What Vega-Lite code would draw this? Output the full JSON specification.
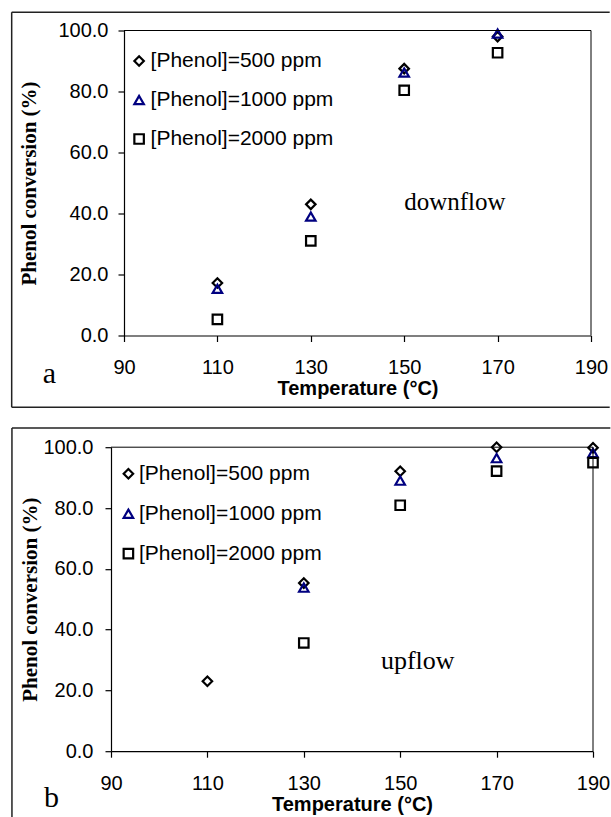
{
  "$schema": "https://vega.github.io/schema/vega-lite/v6.json",
  "background": "white",
  "padding": {"left": 10, "top": 10.5, "right": 0, "bottom": 0},
  "config": {
    "view": {"stroke": null},
    "font": "Liberation Sans",
    "axis": {
      "grid": false,
      "domainColor": "black",
      "tickColor": "black",
      "labelColor": "black",
      "titleColor": "black",
      "domainWidth": 1.2,
      "tickWidth": 1.2,
      "tickSize": 6,
      "labelFont": "Liberation Sans",
      "labelFontSize": 20,
      "labelOverlap": false
    }
  },
  "datasets": {
    "downflow": [
      {"feed": "[Phenol]=500 ppm", "temperature": 110, "conversion": 17.2},
      {"feed": "[Phenol]=500 ppm", "temperature": 130, "conversion": 43.0},
      {"feed": "[Phenol]=500 ppm", "temperature": 150, "conversion": 87.5},
      {"feed": "[Phenol]=500 ppm", "temperature": 170, "conversion": 98.0},
      {"feed": "[Phenol]=1000 ppm", "temperature": 110, "conversion": 15.3},
      {"feed": "[Phenol]=1000 ppm", "temperature": 130, "conversion": 39.0},
      {"feed": "[Phenol]=1000 ppm", "temperature": 150, "conversion": 86.2},
      {"feed": "[Phenol]=1000 ppm", "temperature": 170, "conversion": 99.0},
      {"feed": "[Phenol]=2000 ppm", "temperature": 110, "conversion": 5.3},
      {"feed": "[Phenol]=2000 ppm", "temperature": 130, "conversion": 31.0},
      {"feed": "[Phenol]=2000 ppm", "temperature": 150, "conversion": 80.4},
      {"feed": "[Phenol]=2000 ppm", "temperature": 170, "conversion": 92.7}
    ],
    "upflow": [
      {"feed": "[Phenol]=500 ppm", "temperature": 110, "conversion": 23.0},
      {"feed": "[Phenol]=500 ppm", "temperature": 130, "conversion": 55.3},
      {"feed": "[Phenol]=500 ppm", "temperature": 150, "conversion": 92.1},
      {"feed": "[Phenol]=500 ppm", "temperature": 170, "conversion": 100.0},
      {"feed": "[Phenol]=500 ppm", "temperature": 190, "conversion": 99.8},
      {"feed": "[Phenol]=1000 ppm", "temperature": 130, "conversion": 53.8},
      {"feed": "[Phenol]=1000 ppm", "temperature": 150, "conversion": 89.0},
      {"feed": "[Phenol]=1000 ppm", "temperature": 170, "conversion": 96.4},
      {"feed": "[Phenol]=1000 ppm", "temperature": 190, "conversion": 98.1},
      {"feed": "[Phenol]=2000 ppm", "temperature": 130, "conversion": 35.6},
      {"feed": "[Phenol]=2000 ppm", "temperature": 150, "conversion": 80.9},
      {"feed": "[Phenol]=2000 ppm", "temperature": 170, "conversion": 92.1},
      {"feed": "[Phenol]=2000 ppm", "temperature": 190, "conversion": 94.9}
    ]
  },
  "bounds": "flush",
  "spacing": 111.7,
  "resolve": {
    "scale": {"color": "independent", "shape": "independent"},
    "legend": {"color": "independent", "shape": "independent"}
  },
  "vconcat": [
    {
      "width": 482,
      "height": 305,
      "layer": [
        {
          "data": {"name": "downflow"},
          "mark": {"type": "point", "filled": false, "strokeWidth": 2.2, "size": 90, "opacity": 1},
          "encoding": {
            "x": {
              "field": "temperature", "type": "quantitative",
              "scale": {"domain": [90, 190], "range": [13, 480], "nice": false, "zero": false},
              "axis": {
                "values": [90, 110, 130, 150, 170, 190],
                "labelFlush": false, "labelPadding": 16,
                "title": "Temperature (°C)", "titleFont": "Liberation Sans",
                "titleFontWeight": "bold", "titleFontSize": 20, "titlePadding": 1,
                "titleX": 246.5
              }
            },
            "y": {
              "field": "conversion", "type": "quantitative",
              "scale": {"domain": [0, 100], "nice": false},
              "axis": {
                "values": [0, 20, 40, 60, 80, 100], "format": ".1f",
                "offset": -13, "labelPadding": 10,
                "title": "Phenol conversion (%)", "titleFont": "Liberation Serif",
                "titleFontWeight": "bold", "titleFontSize": 21, "titlePadding": 18
              }
            },
            "shape": {
              "field": "feed", "type": "nominal",
              "scale": {"domain": ["[Phenol]=500 ppm", "[Phenol]=1000 ppm", "[Phenol]=2000 ppm"], "range": ["diamond", "triangle-up", "square"]},
              "legend": {"orient": "none", "legendX": 17.6, "legendY": 20, "title": null, "padding": 0, "labelFont": "Liberation Sans", "labelFontSize": 21, "labelColor": "black", "labelLimit": 0, "symbolStrokeWidth": 2.2, "symbolSize": 90, "rowPadding": 17, "labelOffset": 1}
            },
            "color": {
              "field": "feed", "type": "nominal",
              "scale": {"domain": ["[Phenol]=500 ppm", "[Phenol]=1000 ppm", "[Phenol]=2000 ppm"], "range": ["black", "#000080", "black"]},
              "legend": {"orient": "none", "legendX": 17.6, "legendY": 20, "title": null, "padding": 0, "labelFont": "Liberation Sans", "labelFontSize": 21, "labelColor": "black", "labelLimit": 0, "symbolStrokeWidth": 2.2, "symbolSize": 90, "rowPadding": 17, "labelOffset": 1}
            }
          }
        },
        {
          "data": {"values": [{}]},
          "mark": {"type": "rule", "color": "black", "strokeWidth": 1},
          "encoding": {
            "x": {"datum": 90, "type": "quantitative"},
            "x2": {"datum": 190},
            "y": {"datum": 100, "type": "quantitative"}
          }
        },
        {
          "data": {"values": [{}]},
          "mark": {"type": "rule", "color": "black", "strokeWidth": 1},
          "encoding": {
            "x": {"datum": 190, "type": "quantitative"},
            "y": {"datum": 0, "type": "quantitative"},
            "y2": {"datum": 100}
          }
        },
        {
          "data": {"values": [{}]},
          "mark": {"type": "rule", "color": "#222222", "strokeWidth": 1.5},
          "encoding": {
            "x": {"datum": 65.95, "type": "quantitative"},
            "y": {"datum": -23.5, "type": "quantitative"},
            "y2": {"datum": 106}
          }
        },
        {
          "data": {"values": [{}]},
          "mark": {"type": "rule", "color": "#222222", "strokeWidth": 1.5},
          "encoding": {
            "x": {"datum": 65.95, "type": "quantitative"},
            "x2": {"datum": 194},
            "y": {"datum": 106, "type": "quantitative"}
          }
        },
        {
          "data": {"values": [{}]},
          "mark": {"type": "rule", "color": "#222222", "strokeWidth": 1.5},
          "encoding": {
            "x": {"datum": 65.95, "type": "quantitative"},
            "x2": {"datum": 194},
            "y": {"datum": -23.5, "type": "quantitative"}
          }
        },
        {
          "data": {"values": [{}]},
          "mark": {"type": "text", "font": "Liberation Serif", "fontSize": 25, "align": "left", "baseline": "alphabetic", "color": "black"},
          "encoding": {
            "x": {"datum": 150, "type": "quantitative"},
            "y": {"datum": 41.3, "type": "quantitative"},
            "text": {"value": "downflow"}
          }
        },
        {
          "data": {"values": [{}]},
          "mark": {"type": "text", "font": "Liberation Serif", "fontSize": 30, "align": "left", "baseline": "alphabetic", "color": "black"},
          "encoding": {
            "x": {"datum": 72.6, "type": "quantitative"},
            "y": {"datum": -15.5, "type": "quantitative"},
            "text": {"value": "a"}
          }
        }
      ]
    },
    {
      "width": 482,
      "height": 304,
      "layer": [
        {
          "data": {"name": "upflow"},
          "mark": {"type": "point", "filled": false, "strokeWidth": 2.2, "size": 90, "opacity": 1},
          "encoding": {
            "x": {
              "field": "temperature", "type": "quantitative",
              "scale": {"domain": [90, 190], "nice": false, "zero": false},
              "axis": {
                "values": [90, 110, 130, 150, 170, 190],
                "labelFlush": false, "labelPadding": 16,
                "title": "Temperature (°C)", "titleFont": "Liberation Sans",
                "titleFontWeight": "bold", "titleFontSize": 20, "titlePadding": 1
              }
            },
            "y": {
              "field": "conversion", "type": "quantitative",
              "scale": {"domain": [0, 100], "nice": false},
              "axis": {
                "values": [0, 20, 40, 60, 80, 100], "format": ".1f",
                "labelPadding": 12,
                "title": "Phenol conversion (%)", "titleFont": "Liberation Serif",
                "titleFontWeight": "bold", "titleFontSize": 21, "titlePadding": 2
              }
            },
            "shape": {
              "field": "feed", "type": "nominal",
              "scale": {"domain": ["[Phenol]=500 ppm", "[Phenol]=1000 ppm", "[Phenol]=2000 ppm"], "range": ["diamond", "triangle-up", "square"]},
              "legend": {"orient": "none", "legendX": 6.9, "legendY": 16, "title": null, "padding": 0, "labelFont": "Liberation Sans", "labelFontSize": 21, "labelColor": "black", "labelLimit": 0, "symbolStrokeWidth": 2.2, "symbolSize": 90, "rowPadding": 18, "labelOffset": 0}
            },
            "color": {
              "field": "feed", "type": "nominal",
              "scale": {"domain": ["[Phenol]=500 ppm", "[Phenol]=1000 ppm", "[Phenol]=2000 ppm"], "range": ["black", "#000080", "black"]},
              "legend": {"orient": "none", "legendX": 6.9, "legendY": 16, "title": null, "padding": 0, "labelFont": "Liberation Sans", "labelFontSize": 21, "labelColor": "black", "labelLimit": 0, "symbolStrokeWidth": 2.2, "symbolSize": 90, "rowPadding": 18, "labelOffset": 0}
            }
          }
        },
        {
          "data": {"values": [{}]},
          "mark": {"type": "rule", "color": "black", "strokeWidth": 1},
          "encoding": {
            "x": {"datum": 90, "type": "quantitative"},
            "x2": {"datum": 190},
            "y": {"datum": 100, "type": "quantitative"}
          }
        },
        {
          "data": {"values": [{}]},
          "mark": {"type": "rule", "color": "black", "strokeWidth": 1},
          "encoding": {
            "x": {"datum": 190, "type": "quantitative"},
            "y": {"datum": 0, "type": "quantitative"},
            "y2": {"datum": 100}
          }
        },
        {
          "data": {"values": [{}]},
          "mark": {"type": "rule", "color": "#222222", "strokeWidth": 1.5},
          "encoding": {
            "x": {"datum": 69.45, "type": "quantitative"},
            "y": {"datum": -21.7, "type": "quantitative"},
            "y2": {"datum": 106.35}
          }
        },
        {
          "data": {"values": [{}]},
          "mark": {"type": "rule", "color": "#222222", "strokeWidth": 1.5},
          "encoding": {
            "x": {"datum": 69.45, "type": "quantitative"},
            "x2": {"datum": 193.6},
            "y": {"datum": 106.35, "type": "quantitative"}
          }
        },
        {
          "data": {"values": [{}]},
          "mark": {"type": "text", "font": "Liberation Serif", "fontSize": 26, "align": "left", "baseline": "alphabetic", "color": "black"},
          "encoding": {
            "x": {"datum": 146, "type": "quantitative"},
            "y": {"datum": 27, "type": "quantitative"},
            "text": {"value": "upflow"}
          }
        },
        {
          "data": {"values": [{}]},
          "mark": {"type": "text", "font": "Liberation Serif", "fontSize": 30, "align": "left", "baseline": "alphabetic", "color": "black"},
          "encoding": {
            "x": {"datum": 76.1, "type": "quantitative"},
            "y": {"datum": -18.4, "type": "quantitative"},
            "text": {"value": "b"}
          }
        }
      ]
    }
  ]
}
